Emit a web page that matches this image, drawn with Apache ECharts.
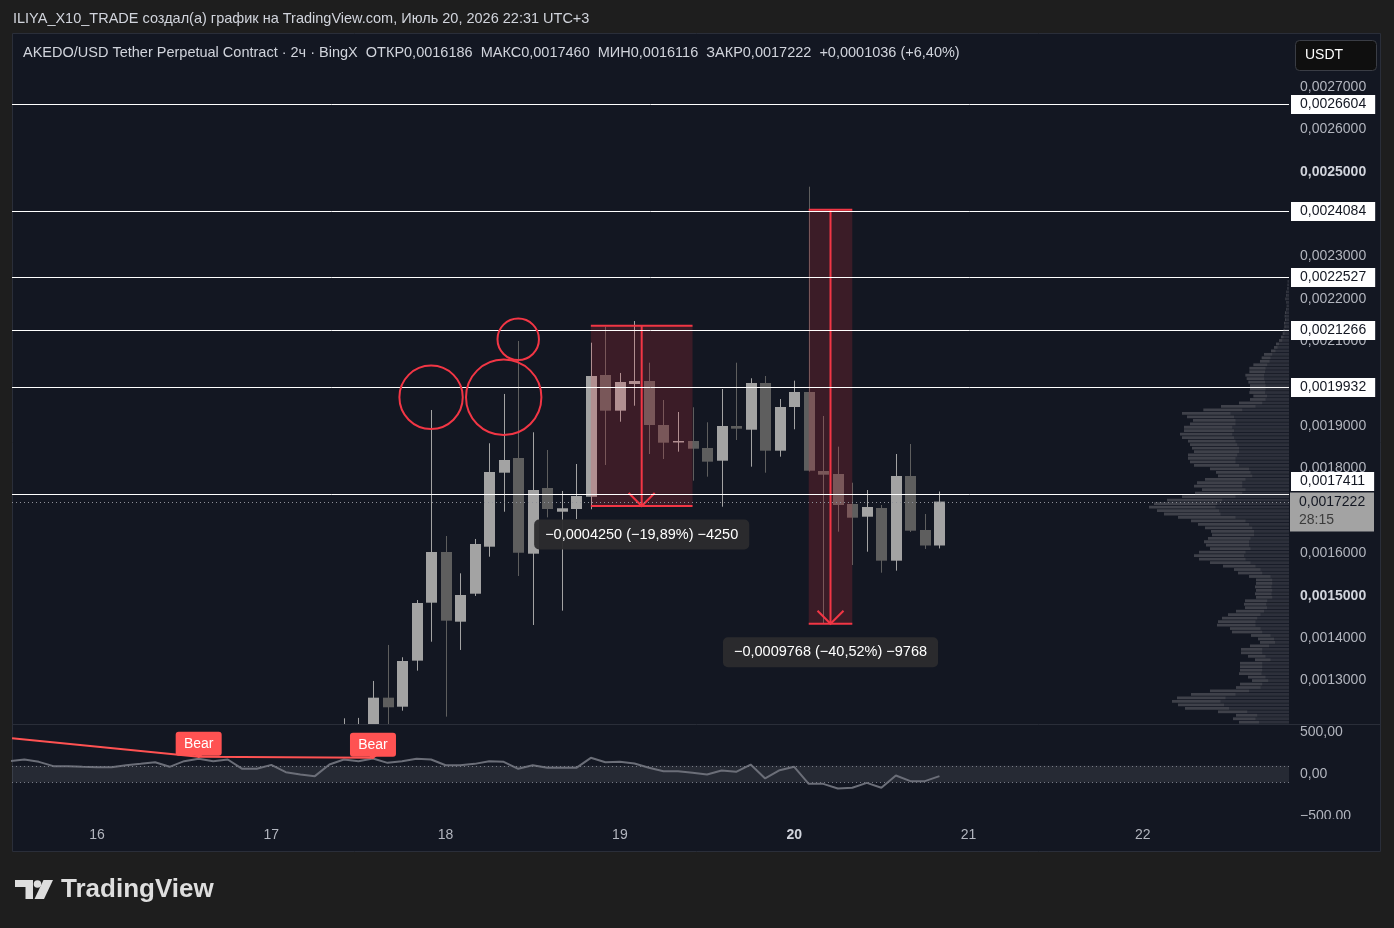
<!DOCTYPE html>
<html>
<head>
<meta charset="utf-8">
<script src="https://cdn.jsdelivr.net/npm/echarts@6/dist/echarts.min.js"></script>
<style>
  html, body { margin: 0; background: #1e1e1e; }
  #chart { width: 1394px; height: 928px; }
</style>
</head>
<body>
<div id="chart"></div>
<script>
const FONT = '"Liberation Sans", Arial, sans-serif';
const UP = '#a3a3a3';
const DOWN = '#5e5e5e';
const RED = '#f23645';
const BG = '#131722';

// 2h candles, x = hours since Jul 15 00:00
const candleHours = [58, 60, 62, 64, 66, 68, 70, 72, 74, 76, 78, 80, 82, 84, 86, 88, 90, 92, 94, 96, 98,
  100, 102, 104, 106, 108, 110, 112, 114, 116, 118, 120, 122, 124, 126, 128, 130, 132, 134, 136, 138, 140];
const candleOpen = [0.00116, 0.00118, 0.00119, 0.0012597, 0.0012384, 0.001347, 0.0014837, 0.0016033, 0.0014389, 0.0015049,
  0.0016158, 0.0017903, 0.001825, 0.0015993, 0.0017542, 0.0016983, 0.0017047, 0.0017337, 0.0020208, 0.0019366,
  0.0019995, 0.0020066, 0.0019028, 0.0018627, 0.0018651, 0.0018486, 0.0018186, 0.0019005, 0.0018917, 0.0020019,
  0.0018422, 0.0019453, 0.0019807, 0.0017943, 0.0017873, 0.0017165, 0.0016865, 0.0017071, 0.0015828, 0.0017825,
  0.0016552, 0.0016186];
const candleClose = [0.00118, 0.00119, 0.0012597, 0.001237, 0.0013462, 0.001483, 0.0016033, 0.0014413, 0.0015019, 0.0016222,
  0.001792, 0.0018203, 0.0016016, 0.0017495, 0.0017047, 0.0017064, 0.0017354, 0.0020184, 0.0019366, 0.0020042,
  0.0020066, 0.0019028, 0.0018611, 0.0018651, 0.0018469, 0.0018163, 0.0019005, 0.0018941, 0.0020019, 0.0018422,
  0.0019453, 0.0019807, 0.001795, 0.0017856, 0.0017141, 0.0016842, 0.0017094, 0.0015828, 0.0017825, 0.0016535,
  0.0016186, 0.0017222];
const candleLow = [0.00114, 0.00115, 0.00117, 0.00118, 0.001229, 0.0013234, 0.0013917, 0.0012149, 0.0013722, 0.0014995,
  0.0015922, 0.0016983, 0.0015467, 0.0014311, 0.001685, 0.0014649, 0.0016811, 0.001704, 0.0018085, 0.0019106,
  0.0019483, 0.0018344, 0.0018226, 0.0018399, 0.0017715, 0.0017809, 0.0017101, 0.0018674, 0.0018045, 0.0017903,
  0.0018281, 0.0018927, 0.001793, 0.0014351, 0.0016512, 0.0015726, 0.001604, 0.0015545, 0.0015592, 0.0016505,
  0.0016104, 0.0016116];
const candleHigh = [0.001211, 0.001212, 0.0012991, 0.001384, 0.001355, 0.00149, 0.0019382, 0.001641, 0.001553, 0.001634,
  0.0018597, 0.001976, 0.0021009, 0.0018856, 0.0018439, 0.0017472, 0.0018108, 0.0020969, 0.0021347, 0.0020255,
  0.0021481, 0.0020498, 0.0019618, 0.0019335, 0.0019446, 0.0019092, 0.0019877, 0.0020498, 0.002013, 0.0020184,
  0.0019641, 0.0020073, 0.0024649, 0.0019241, 0.0018517, 0.0017667, 0.0017495, 0.0017141, 0.0018344, 0.001858,
  0.0016929, 0.001746];

const levelPrices = [0.0026604, 0.0024084, 0.0022527, 0.0021266, 0.0019932, 0.0017411];
const priceTicks = [0.0013, 0.0014, 0.0015, 0.0016, 0.0017, 0.0018, 0.0019, 0.002, 0.0021, 0.0022,
  0.0023, 0.0024, 0.0025, 0.0026, 0.0027];
const boldPriceTicks = [0.0015, 0.002, 0.0025];
const dayTicks = [24, 48, 72, 96, 120, 144, 168];
const dayLabels = ['16', '17', '18', '19', '20', '21', '22'];
const boldDay = '20';
const barCountdown = '28:15';
const TICK_SIZE = 0.0000001;

// measure tool: [startHour, endHour, fromPrice, toPrice, arrowHour]
const measures = [
  [92, 106, 0.0021367, 0.0017117, 99],
  [122, 128, 0.0024107, 0.0014339, 125]
];
// circles: [hour, centerPrice, topPrice]
const circles = [
  [70, 0.0019682, 0.0020429],
  [80, 0.0019682, 0.0020571],
  [82, 0.0021049, 0.0021538]
];

// volume profile rows from top (row centre price = first - i*step)
const vpFirstPrice = 0.0022413;
const vpStep = 0.000008185;
const vpTotal = [4, 5, 6, 8, 9, 11, 8, 7, 9, 12, 13, 12, 15, 14, 17, 19, 24, 30,
  39, 45, 54, 75, 82, 87, 107, 119, 119, 131,
  127, 122, 117, 117, 119, 107, 117, 150, 204, 257,
  321, 306, 288, 297, 315, 315, 327, 321, 303, 297,
  291, 285, 303, 303, 297, 285, 237, 219, 213, 252,
  276, 285, 261, 282, 321, 366, 405, 420, 396, 375,
  333, 294, 273, 252, 234, 231, 243, 255, 249, 237,
  270, 285, 270, 237, 198, 165, 153, 120, 99, 99,
  102, 99, 102, 99, 132, 135, 132, 159, 183, 201,
  213, 216, 177, 171, 114, 93, 87, 117, 144, 144,
  123, 102, 147, 147, 147, 150, 123, 111, 147, 159,
  237, 294, 336, 351, 333, 312, 213, 159, 168, 150];
const vpDown = [3, 4, 5, 6, 7, 8, 6, 5, 7, 9, 10, 9, 11, 10, 12, 13, 16, 20,
  30, 34, 40, 50, 55, 58, 65, 70, 72, 75,
  74, 72, 70, 70, 72, 66, 70, 80, 100, 140,
  175, 165, 160, 160, 170, 165, 170, 165, 160, 155,
  150, 150, 155, 160, 160, 150, 120, 115, 110, 130,
  140, 140, 130, 140, 160, 200, 215, 220, 210, 205,
  160, 130, 120, 110, 105, 105, 115, 120, 120, 115,
  130, 135, 130, 115, 100, 85, 80, 55, 50, 50,
  52, 50, 52, 50, 65, 68, 66, 75, 85, 95,
  100, 100, 85, 80, 55, 45, 42, 60, 80, 80,
  70, 55, 80, 80, 80, 82, 70, 62, 80, 85,
  120, 160, 190, 205, 195, 180, 125, 95, 100, 90];

// oscillator pane
const oscHours = [12, 14, 16, 18, 20, 22, 24, 26, 28, 30, 32, 34, 36, 38, 40, 42, 44, 46, 48, 50,
  52, 54, 56, 58, 60, 62, 64, 66, 68, 70, 72, 74, 76, 78, 80, 82, 84, 86, 88, 90,
  92, 94, 96, 98, 100, 102, 104, 106, 108, 110, 112, 114, 116, 118, 120, 122, 124, 126, 128, 130,
  132, 134, 136, 138, 140];
const oscValues = [155, 175, 147, 96, 96, 88, 84, 84, 107, 123, 143, 88, 155, 183, 155, 175, 64, 64, 111, 24,
  -4, -23, 115, 175, 155, 187, 135, 155, 183, 175, 107, 107, 123, 155, 147, 64, 107, 76, 76, 76,
  195, 143, 147, 127, 76, 36, 36, 16, -4, 44, 28, 115, -51, 48, 88, -115, -115, -170, -162, -103,
  -162, -15, -83, -83, -23];
const oscTicks = [-500, 0, 500];
const oscBand = [100, -100];
const bearLine = [[12.3, 427], [38, 207], [62, 195]];
const bearPoints = [[38, 207], [62, 195]];

const X_MIN = 12.296, X_MAX = 188.13;
const P_MIN = 0.0011976, P_MAX = 0.002825;
const VP_MAX = 3831;

const fmtPrice = v => Number(v).toFixed(7).replace('.', ',');
const fmtComma = (v, d) => Number(v).toFixed(d).replace('.', ',');

const n = candleClose.length;
const lastO = candleOpen[n - 1], lastH = candleHigh[n - 1], lastL = candleLow[n - 1], lastC = candleClose[n - 1];
const prevC = candleClose[n - 2];
const legendText = 'AKEDO/USD Tether Perpetual Contract · 2ч · BingX  ОТКР' + fmtPrice(lastO) +
  '  МАКС' + fmtPrice(lastH) + '  МИН' + fmtPrice(lastL) + '  ЗАКР' + fmtPrice(lastC) +
  '  +' + fmtPrice(lastC - prevC) + ' (+' + fmtComma((lastC - prevC) / prevC * 100, 2) + '%)';

const candleData = candleHours.map((h, i) => [h, candleOpen[i], candleClose[i], candleLow[i], candleHigh[i]]);
const vpData = vpTotal.map((t, i) => [vpFirstPrice - i * vpStep, t, vpDown[i]]);
const oscData = oscHours.map((h, i) => [h, oscValues[i]]);

// last-price tag spans from 10px above its line to 29px below
const LAST_TAG_UP = 10, LAST_TAG_DOWN = 29, LEVEL_TAG_HALF = 10;

// horizontal price line across the pane with its tag in the price scale
function priceLine(api, price, lineStyle, tag, tagShift) {
  const l = api.coord([X_MIN, price]), r = api.coord([X_MAX, price]);
  const y = Math.round(l[1]) + 0.5;
  return [
    { type: 'line', shape: { x1: l[0], y1: y, x2: r[0], y2: y }, style: lineStyle },
    Object.assign({ type: 'group', x: r[0], y: y + (tagShift || 0) }, tag)
  ];
}

const option = {
  backgroundColor: '#1e1e1e',
  animation: false,
  textStyle: { fontFamily: FONT },
  grid: [
    { left: 12, right: 105, top: 34, height: 690 },
    { left: 12, right: 105, top: 732.2, height: 84 },
    { left: 12, right: 105, top: 34, height: 690 }
  ],
  xAxis: [
    { type: 'value', gridIndex: 0, min: X_MIN, max: X_MAX, show: false },
    {
      type: 'value', gridIndex: 1, min: X_MIN, max: X_MAX,
      axisLine: { show: false }, axisTick: { show: false }, splitLine: { show: false },
      axisLabel: {
        customValues: dayTicks, color: '#b2b5be', fontSize: 14, margin: 12,
        formatter: v => {
          const s = dayLabels[dayTicks.indexOf(v)];
          return s === boldDay ? '{b|' + s + '}' : s;
        },
        rich: { b: { fontWeight: 'bold', color: '#d1d4dc', fontSize: 14 } }
      }
    },
    { type: 'value', gridIndex: 2, min: 0, max: VP_MAX, inverse: true, show: false }
  ],
  yAxis: [
    {
      type: 'value', gridIndex: 0, position: 'right', min: P_MIN, max: P_MAX,
      axisLine: { show: false }, axisTick: { show: false }, splitLine: { show: false },
      axisLabel: {
        customValues: priceTicks, color: '#b2b5be', fontSize: 14, margin: 11,
        formatter: v => {
          const s = fmtPrice(v);
          return boldPriceTicks.some(b => Math.abs(b - v) < 1e-9) ? '{b|' + s + '}' : s;
        },
        rich: { b: { fontWeight: 'bold', color: '#d1d4dc', fontSize: 14 } }
      }
    },
    {
      type: 'value', gridIndex: 1, position: 'right', min: -500, max: 500,
      axisLine: { show: false }, axisTick: { show: false }, splitLine: { show: false },
      axisLabel: {
        customValues: oscTicks, color: '#b2b5be', fontSize: 14, margin: 11,
        formatter: v => (v < 0 ? '−' : '') + fmtComma(Math.abs(v), 2)
      }
    },
    { type: 'value', gridIndex: 2, min: P_MIN, max: P_MAX, show: false }
  ],
  series: [
    {
      // candles drawn as wick + body, clipped to the price pane
      type: 'custom', xAxisIndex: 0, yAxisIndex: 0, z: 2, clip: true, silent: true,
      data: candleData,
      renderItem: (params, api) => {
        const x = api.value(0), o = api.value(1), c = api.value(2);
        const po = api.coord([x, o]), pc = api.coord([x, c]);
        const pl = api.coord([x, api.value(3)]), ph = api.coord([x, api.value(4)]);
        const color = c >= o ? UP : DOWN;
        const xc = Math.round(po[0]) + 0.5;
        const top = Math.min(po[1], pc[1]);
        return {
          type: 'group', children: [
            { type: 'line', shape: { x1: xc, y1: ph[1], x2: xc, y2: pl[1] }, style: { stroke: color, lineWidth: 1 } },
            { type: 'rect', shape: { x: xc - 5.5, y: top, width: 11, height: Math.max(1.5, Math.abs(po[1] - pc[1])) }, style: { fill: color } }
          ]
        };
      }
    },
    {
      type: 'custom', xAxisIndex: 0, yAxisIndex: 0, z: 3, silent: true,
      data: measures,
      renderItem: (params, api) => {
        const x0 = api.value(0), x1 = api.value(1), top = api.value(2), bot = api.value(3), xa = api.value(4);
        const a = api.coord([x0, top]), b = api.coord([x1, bot]), m = api.coord([xa, bot]);
        const diff = Math.abs(bot - top);
        const text = '−' + fmtPrice(diff) + ' (−' + fmtComma(diff / top * 100, 2) + '%) −' + Math.round(diff / TICK_SIZE);
        const line = { stroke: RED, lineWidth: 2 };
        return {
          type: 'group', children: [
            { type: 'rect', shape: { x: a[0], y: a[1], width: b[0] - a[0], height: b[1] - a[1] }, style: { fill: 'rgba(242,54,69,0.18)' } },
            { type: 'line', shape: { x1: a[0], y1: a[1], x2: b[0], y2: a[1] }, style: line },
            { type: 'line', shape: { x1: a[0], y1: b[1], x2: b[0], y2: b[1] }, style: line },
            { type: 'line', shape: { x1: m[0], y1: a[1], x2: m[0], y2: b[1] }, style: line },
            { type: 'polyline', shape: { points: [[m[0] - 13, b[1] - 13], [m[0], b[1]], [m[0] + 13, b[1] - 13]] }, style: Object.assign({ fill: null }, line) },
            {
              type: 'text', x: m[0], y: b[1] + 28.5, z2: 10,
              style: {
                text, fill: '#ffffff', font: '14.5px ' + FONT, align: 'center', verticalAlign: 'middle',
                backgroundColor: 'rgba(44,44,46,0.96)', padding: [8, 11, 7, 11], borderRadius: 5
              }
            }
          ]
        };
      }
    },
    {
      // horizontal levels with white tags (a tag yields upward to the last-price tag)
      type: 'custom', xAxisIndex: 0, yAxisIndex: 0, z: 4, silent: true, clip: false,
      data: levelPrices.map(p => [p]),
      renderItem: (params, api) => {
        const p = api.value(0);
        const y = api.coord([X_MIN, p])[1];
        const yLast = api.coord([X_MIN, lastC])[1];
        let shift = 0;
        if (y + LEVEL_TAG_HALF > yLast - LAST_TAG_UP && y - LEVEL_TAG_HALF < yLast + LAST_TAG_DOWN) {
          shift = (yLast - LAST_TAG_UP - 1 - LEVEL_TAG_HALF) - y;
        }
        return {
          type: 'group', children: priceLine(api, p, { stroke: '#ffffff', lineWidth: 1 }, {
            children: [{
              type: 'text', x: 2, y: 0,
              style: {
                text: fmtPrice(p), fill: '#131722', font: '14px ' + FONT, verticalAlign: 'middle',
                backgroundColor: '#ffffff', padding: [3, 9, 2, 9]
              }
            }]
          }, shift)
        };
      }
    },
    {
      // last price: dotted line and grey tag with bar countdown
      type: 'custom', xAxisIndex: 0, yAxisIndex: 0, z: 4, silent: true, clip: false,
      data: [[lastC]],
      renderItem: (params, api) => {
        const p = api.value(0);
        return {
          type: 'group', children: priceLine(api, p, { stroke: '#8f9199', lineWidth: 1, lineDash: [1, 3] }, {
            children: [
              { type: 'rect', shape: { x: 1, y: -LAST_TAG_UP, width: 84, height: LAST_TAG_UP + LAST_TAG_DOWN }, style: { fill: '#a3a3a3' } },
              { type: 'text', x: 10, y: 0, style: { text: fmtPrice(p), fill: '#131722', font: '14px ' + FONT, verticalAlign: 'middle' } },
              { type: 'text', x: 10, y: 18, style: { text: barCountdown, fill: '#3b3b3b', font: '14px ' + FONT, verticalAlign: 'middle' } }
            ]
          })
        };
      }
    },
    {
      type: 'custom', xAxisIndex: 0, yAxisIndex: 0, z: 5, silent: true,
      data: circles,
      renderItem: (params, api) => {
        const c = api.coord([api.value(0), api.value(1)]);
        const t = api.coord([api.value(0), api.value(2)]);
        return { type: 'circle', shape: { cx: c[0], cy: c[1], r: Math.abs(c[1] - t[1]) }, style: { fill: null, stroke: RED, lineWidth: 2 } };
      }
    },
    {
      type: 'custom', xAxisIndex: 2, yAxisIndex: 2, z: 6, silent: true,
      data: vpData,
      renderItem: (params, api) => {
        const p = api.value(0);
        const r = api.coord([0, p]);
        const lt = api.coord([api.value(1), p]);
        const ld = api.coord([api.value(2), p]);
        const h = Math.abs(api.coord([0, p + vpStep])[1] - r[1]) * 0.8;
        return {
          type: 'group', children: [
            { type: 'rect', shape: { x: lt[0], y: r[1] - h / 2, width: ld[0] - lt[0], height: h }, style: { fill: 'rgba(140,142,148,0.36)' } },
            { type: 'rect', shape: { x: ld[0], y: r[1] - h / 2, width: r[0] - ld[0], height: h }, style: { fill: 'rgba(140,142,148,0.22)' } }
          ]
        };
      }
    },
    {
      type: 'line', xAxisIndex: 1, yAxisIndex: 1, z: 3, data: oscData, symbol: 'none',
      lineStyle: { color: '#6b6e78', width: 2 },
      markArea: { silent: true, itemStyle: { color: 'rgba(149,152,161,0.15)' }, data: [[{ yAxis: oscBand[0] }, { yAxis: oscBand[1] }]] },
      markLine: {
        silent: true, symbol: ['none', 'none'], label: { show: false },
        lineStyle: { color: '#787b86', width: 1, type: [1, 3] },
        data: oscBand.map(v => ({ yAxis: v }))
      }
    },
    {
      type: 'line', xAxisIndex: 1, yAxisIndex: 1, z: 4, data: bearLine, symbol: 'none',
      lineStyle: { color: '#ff5252', width: 2 }
    },
    {
      type: 'custom', xAxisIndex: 1, yAxisIndex: 1, z: 5, silent: true, clip: false,
      data: bearPoints,
      renderItem: (params, api) => {
        const p = api.coord([api.value(0), api.value(1)]);
        return {
          type: 'group', children: [
            { type: 'rect', shape: { x: p[0] - 23, y: p[1] - 25, width: 46, height: 24, r: 3 }, style: { fill: '#ff5252' } },
            { type: 'polygon', shape: { points: [[p[0] - 4, p[1] - 2], [p[0] + 4, p[1] - 2], [p[0], p[1] + 1.5]] }, style: { fill: '#ff5252' } },
            { type: 'text', x: p[0], y: p[1] - 13, style: { text: 'Bear', fill: '#ffffff', font: '14px ' + FONT, align: 'center', verticalAlign: 'middle' } }
          ]
        };
      }
    }
  ],
  graphic: [
    { type: 'rect', z: -10, shape: { x: 12.5, y: 33.5, width: 1368, height: 818 }, style: { fill: BG, stroke: '#2a2e39', lineWidth: 1 } },
    { type: 'line', z: 1, shape: { x1: 12, y1: 724.5, x2: 1381, y2: 724.5 }, style: { stroke: '#2a2e39', lineWidth: 1 } },
    { type: 'rect', z: 100, shape: { x: 1290, y: 819, width: 90, height: 10 }, style: { fill: BG } },
    {
      type: 'text', z: 10, x: 13, y: 19,
      style: { text: 'ILIYA_X10_TRADE создал(а) график на TradingView.com, Июль 20, 2026 22:31 UTC+3', fill: '#d1d4dc', font: '14.5px ' + FONT, verticalAlign: 'middle' }
    },
    { type: 'text', z: 10, x: 23, y: 53, style: { text: legendText, fill: '#d1d4dc', font: '14.5px ' + FONT, verticalAlign: 'middle' } },
    { type: 'rect', z: 10, shape: { x: 1295.5, y: 40.5, width: 81, height: 30, r: 4 }, style: { fill: '#0f0f0f', stroke: '#3a3d45', lineWidth: 1 } },
    { type: 'text', z: 11, x: 1305, y: 55.5, style: { text: 'USDT', fill: '#ffffff', font: '14px ' + FONT, verticalAlign: 'middle' } },
    {
      type: 'group', z: 10, children: [
        { type: 'polygon', shape: { points: [[15, 880], [33, 880], [33, 899], [25.5, 899], [25.5, 887], [15, 887]] }, style: { fill: '#dedede' } },
        { type: 'circle', shape: { cx: 37.5, cy: 884, r: 3.8 }, style: { fill: '#dedede' } },
        { type: 'polygon', shape: { points: [[43.5, 880], [53, 880], [44, 899], [34.5, 899]] }, style: { fill: '#dedede' } },
        { type: 'text', x: 61, y: 890, style: { text: 'TradingView', fill: '#dedede', font: 'bold 26px ' + FONT, verticalAlign: 'middle' } }
      ]
    }
  ]
};

const chart = echarts.init(document.getElementById('chart'));
chart.setOption(option);
window.addEventListener('resize', () => chart.resize());
</script>
</body>
</html>
